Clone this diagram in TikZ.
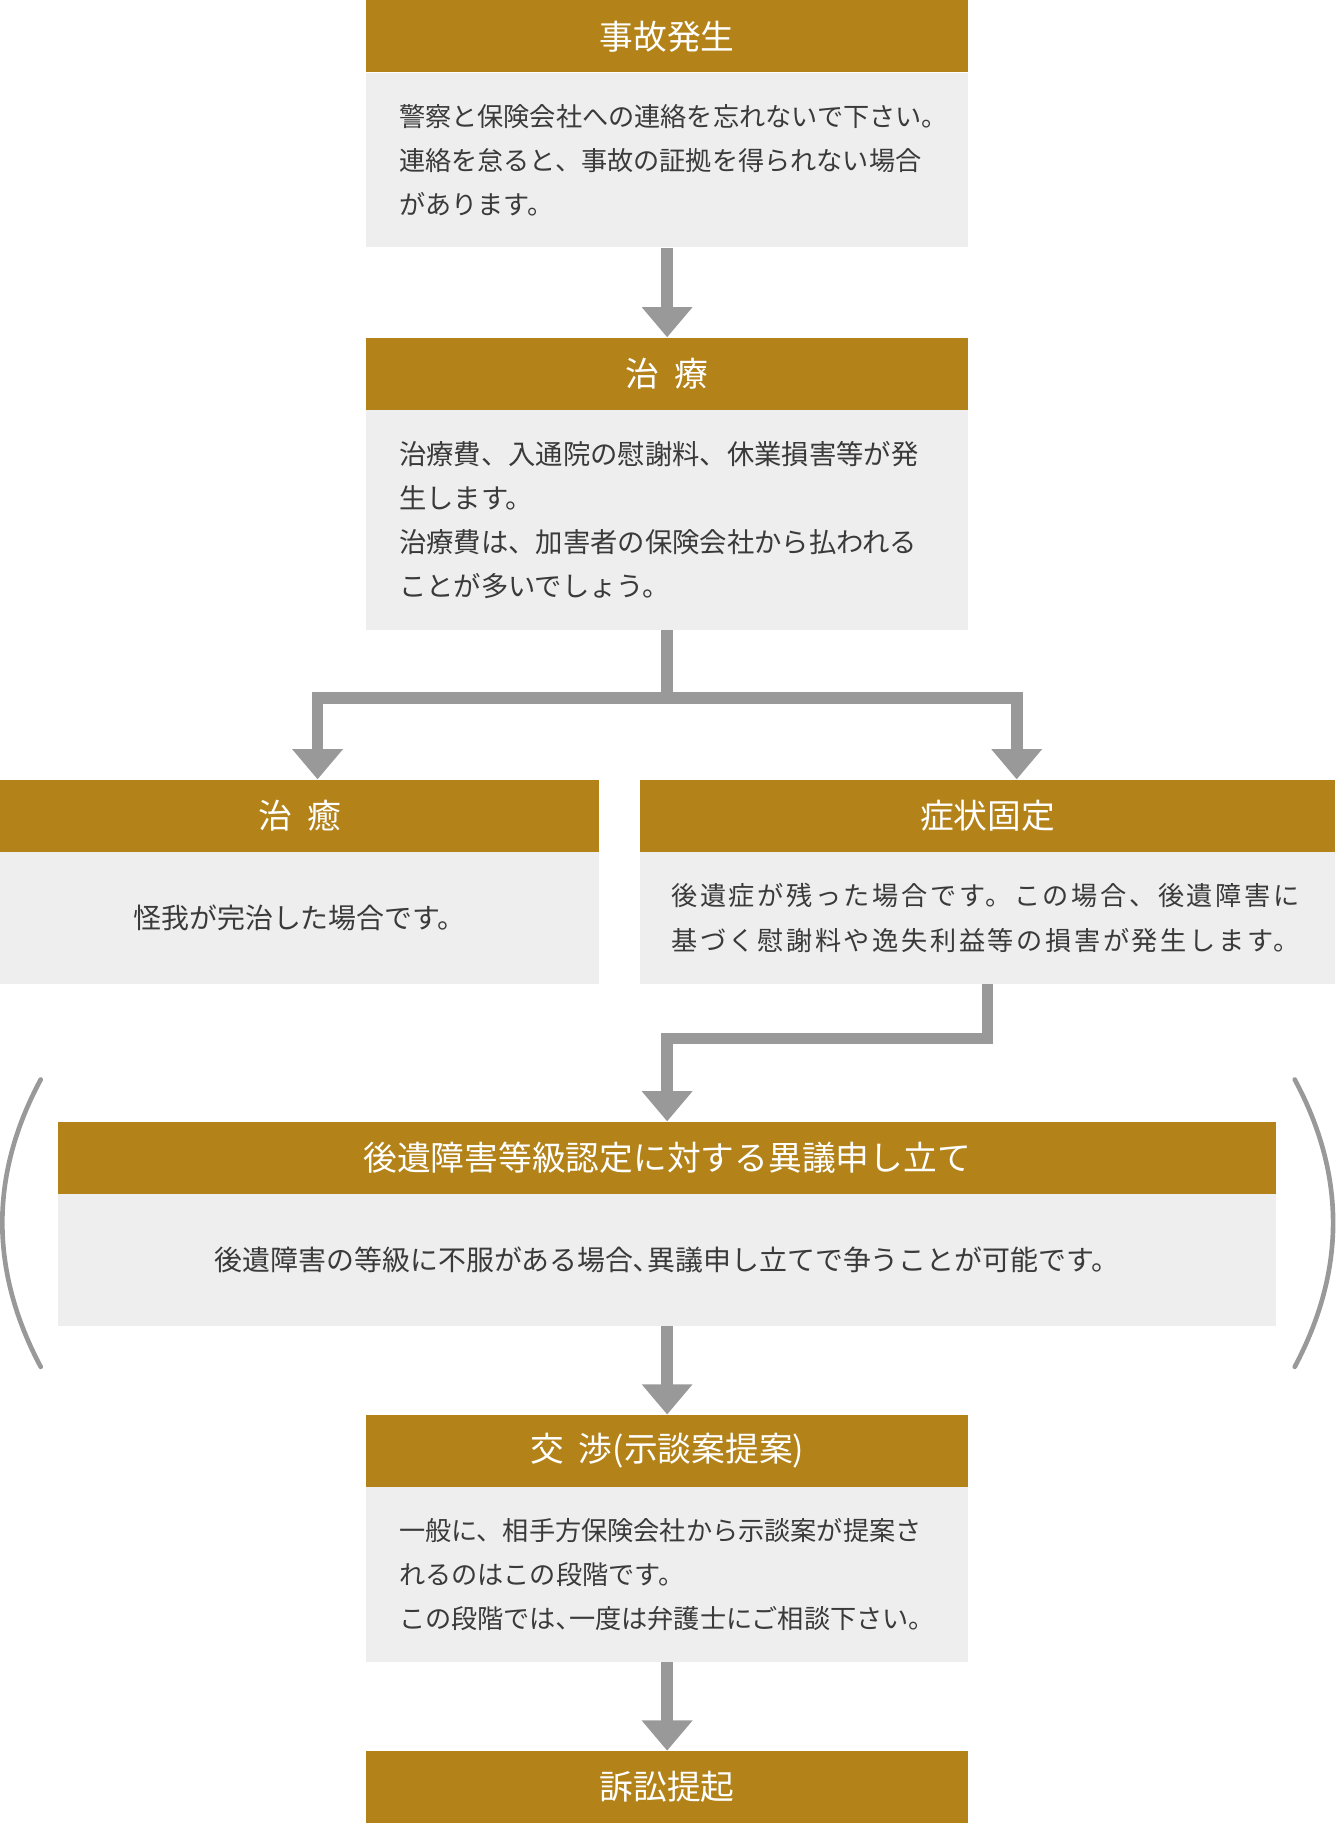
\documentclass[tikz,border=0pt]{standalone}
\usepackage{fontspec}
\setmainfont{Noto Sans CJK JP}
\newfontfamily\widefont[LetterSpace=10]{Noto Sans CJK JP}
\usetikzlibrary{positioning,arrows.meta}
\definecolor{gold}{HTML}{B3831A}
\definecolor{pale}{HTML}{EEEEEE}
\definecolor{arrowgray}{HTML}{999999}
\definecolor{ink}{HTML}{3A3A3A}
\begin{document}
\begin{tikzpicture}[x=1pt, y=-1pt, node distance=0pt,
    head/.style = {fill=gold, text=white, inner sep=0pt, minimum height=62pt, anchor=north, font=\fontsize{29}{32}\selectfont},
    body/.style = {fill=pale, text=ink, inner sep=0pt, align=left, text width=461pt, font=\fontsize{22.5}{38}\selectfont},
    note/.style = {fill=pale, text=ink, inner sep=0pt, align=center, font=\fontsize{24}{38}\selectfont},
    flow/.style = {draw=arrowgray, line width=10pt, -{Triangle[width=42pt,length=26pt]}},
    link/.style = {draw=arrowgray, line width=10pt},
    bracket/.style = {draw=arrowgray, line width=4pt, line cap=round}]
    \useasboundingbox (0,0) rectangle (1148,1568);
    % steps
    \node[head, minimum width=517pt] (hA) at (573.5,0) {事故発生};
    \node[body, minimum width=517pt, minimum height=150pt, below=of hA] (bA) {警察と保険会社への連絡を忘れないで下さい。\\連絡を怠ると、事故の証拠を得られない場合\\があります。};
    \node[head, minimum width=517pt] (hB) at (573.5,290) {治\hspace{.45em}療};
    \node[body, minimum width=517pt, minimum height=189pt, below=of hB, font=\fontsize{23.5}{38}\selectfont] (bB) {治療費、入通院の慰謝料、休業損害等が発\\生します。\\治療費は、加害者の保険会社から払われる\\ことが多いでしょう。};
    \node[head, minimum width=515pt] (hC) at (257.5,670) {治\hspace{.45em}癒};
    \node[note, minimum width=515pt, minimum height=113pt, below=of hC] (bC) {怪我が完治した場合です。};
    \node[head, minimum width=598pt] (hD) at (849,670) {症状固定};
    \node[body, minimum width=598pt, minimum height=113pt, text width=544pt, below=of hD, font=\widefont\fontsize{22.5}{38}\selectfont] (bD) {後遺症が残った場合です。この場合、後遺障害に\\基づく慰謝料や逸失利益等の損害が発生します。};
    \node[head, minimum width=1047pt] (hE) at (573.5,964) {後遺障害等級認定に対する異議申し立て};
    \node[note, minimum width=1047pt, minimum height=113pt, below=of hE] (bE) {後遺障害の等級に不服がある場合､異議申し立てで争うことが可能です。};
    \node[head, minimum width=517pt] (hF) at (573.5,1216) {交\hspace{.45em}渉(示談案提案)};
    \node[body, minimum width=517pt, minimum height=150pt, below=of hF] (bF) {一般に、相手方保険会社から示談案が提案さ\\れるのはこの段階です。\\この段階では､一度は弁護士にご相談下さい。};
    \node[head, minimum width=517pt] (hG) at (573.5,1505) {訴訟提起};
    % arrows
    \coordinate (fork) at (573.5,600);
    \draw[flow] (bA) -- (hB);
    \draw[link] (bB) -- (fork);
    \draw[flow] (fork) -| ([xshift=15.5pt]hC.north);
    \draw[flow] (fork) -| ([xshift=25pt]hD.north);
    \draw[flow] (bD.south) -- ++(0,47) -| (hE.north);
    \draw[flow] (bE) -- (hF);
    \draw[flow] (bF) -- (hG);
    % brackets
    \draw[bracket] (35,928) .. controls (-9,1010) and (-9,1092) .. (35,1175);
    \draw[bracket] (1113,928) .. controls (1157,1010) and (1157,1092) .. (1113,1175);
\end{tikzpicture}
\end{document}
